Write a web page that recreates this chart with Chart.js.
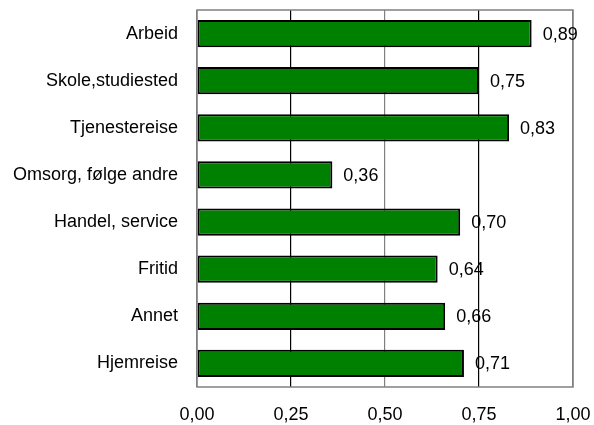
<!DOCTYPE html>
<html>
<head>
<meta charset="utf-8">
<script src="https://cdn.jsdelivr.net/npm/chart.js@4/dist/chart.umd.min.js"></script>
<style>
  html, body { margin: 0; padding: 0; background: #fff; }
  #wrap { width: 594px; height: 425px; }
</style>
</head>
<body>
<div id="wrap"><canvas id="chart"></canvas></div>
<script>
const categories = ['Arbeid', 'Skole,studiested', 'Tjenestereise', 'Omsorg, følge andre', 'Handel, service', 'Fritid', 'Annet', 'Hjemreise'];
const values = [0.89, 0.75, 0.83, 0.36, 0.70, 0.64, 0.66, 0.71];
const xTicks = [0, 0.25, 0.5, 0.75, 1];

const fontFamily = '"Liberation Sans", Arial, sans-serif';
const fmt = v => v.toFixed(2).replace('.', ',');

// frame round the plot area, grey like the original
const framePlugin = {
    id: 'frame',
    afterDraw(chart) {
        const { ctx, chartArea: a } = chart;
        ctx.save();
        ctx.strokeStyle = '#808080';
        ctx.lineWidth = 1.5;
        ctx.strokeRect(a.left, a.top, a.right - a.left, a.bottom - a.top);
        ctx.restore();
    }
};

// value labels right of each bar
const valueLabels = {
    id: 'valueLabels',
    afterDraw(chart) {
        const { ctx } = chart;
        const meta = chart.getDatasetMeta(0);
        ctx.save();
        ctx.font = '18px ' + fontFamily;
        ctx.fillStyle = '#000';
        ctx.textAlign = 'left';
        ctx.textBaseline = 'middle';
        meta.data.forEach((bar, i) => {
            ctx.fillText(fmt(values[i]), bar.x + 11, bar.y + 1);
        });
        ctx.restore();
    }
};

new Chart(document.getElementById('chart'), {
    type: 'bar',
    data: {
        labels: categories,
        datasets: [{
            data: values,
            backgroundColor: '#008000',
            borderColor: '#000',
            borderWidth: 2,
            borderSkipped: false,
            categoryPercentage: 0.58,
            barPercentage: 1,
        }]
    },
    options: {
        indexAxis: 'y',
        responsive: true,
        maintainAspectRatio: false,
        animation: false,
        layout: { padding: { top: 10, right: 21, left: 0, bottom: 0 } },
        plugins: {
            legend: { display: false },
            tooltip: { enabled: false },
        },
        scales: {
            x: {
                min: 0,
                max: 1,
                afterBuildTicks: scale => { scale.ticks = xTicks.map(v => ({ value: v })); },
                afterFit: scale => {
                    scale.height = 38;
                    scale.paddingLeft = 0;
                    scale.paddingRight = 0;
                },
                ticks: {
                    padding: 17,
                    color: '#000',
                    font: { family: fontFamily, size: 18 },
                    callback: v => fmt(v),
                },
                grid: {
                    drawTicks: false,
                    lineWidth: 1.2,
                    color: ctx => (ctx.index % 2 === 1 ? '#000' : '#808080'),
                },
                border: { display: false },
            },
            y: {
                afterFit: scale => {
                    scale.width = 197;
                    scale.paddingTop = 0;
                    scale.paddingBottom = 0;
                },
                ticks: {
                    padding: 19,
                    color: '#000',
                    font: { family: fontFamily, size: 18 },
                },
                grid: { display: false, drawTicks: false },
                border: { display: false },
            }
        }
    },
    plugins: [framePlugin, valueLabels]
});
</script>
</body>
</html>
